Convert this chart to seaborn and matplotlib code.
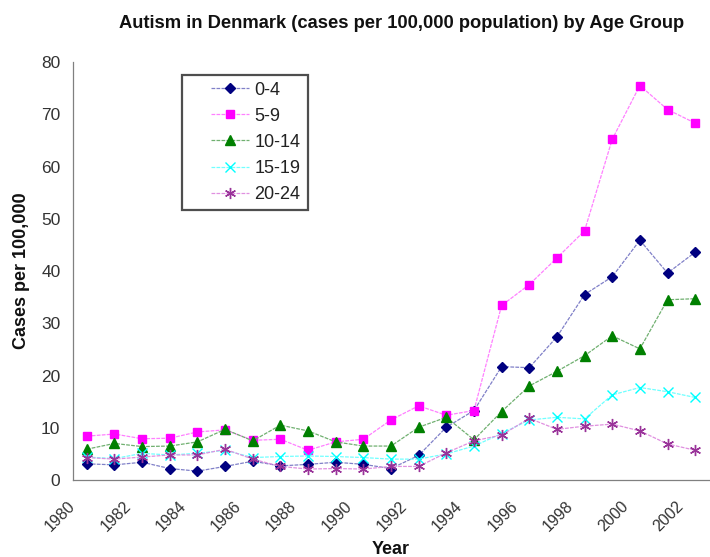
import numpy as np
import pandas as pd
import matplotlib
matplotlib.use("Agg")
import matplotlib.pyplot as plt
from matplotlib.lines import Line2D
from matplotlib.legend_handler import HandlerLine2D
import seaborn as sns

years = list(range(1980, 2003))
ages = ["0-4", "5-9", "10-14", "15-19", "20-24"]

v_0_4 = [3.1, 2.9, 3.4, 2.2, 1.7, 2.6, 3.6, 2.7, 3.0, 3.4, 3.0, 2.2, 4.7, 10.1, 13.3,
         21.7, 21.5, 27.4, 35.5, 38.9, 45.9, 39.6, 43.6]
v_5_9 = [8.4, 8.8, 7.9, 8.0, 9.2, 9.6, 7.6, 7.8, 5.7, 7.3, 7.8, 11.5, 14.2, 12.4, 13.3,
         33.4, 37.4, 42.5, 47.7, 65.2, 75.5, 70.9, 68.3]
v_10_14 = [5.9, 7.0, 6.4, 6.5, 7.3, 9.7, 7.5, 10.5, 9.4, 7.3, 6.5, 6.5, 10.1, 12.0, 7.7,
           13.1, 18.0, 20.8, 23.8, 27.6, 25.1, 34.5, 34.7]
v_15_19 = [4.4, 4.1, 5.1, 4.8, 5.1, 5.7, 4.3, 4.5, 4.6, 4.5, 4.3, 4.0, 4.0, 5.0, 6.5,
           8.9, 11.5, 12.0, 11.7, 16.3, 17.7, 16.9, 15.8]
v_20_24 = [4.3, 4.0, 4.4, 4.8, 4.8, 5.9, 4.0, 2.6, 2.1, 2.2, 2.1, 2.6, 2.6, 5.2, 7.5,
           8.6, 11.8, 9.7, 10.3, 10.7, 9.4, 6.9, 5.7]

y_ticks = [0, 10, 20, 30, 40, 50, 60, 70, 80]
x_labels = [str(y) if y % 2 == 0 else "" for y in years]

series = [v_0_4, v_5_9, v_10_14, v_15_19, v_20_24]
df = pd.DataFrame({
    "Year": years * len(ages),
    "Age": [a for a in ages for _ in years],
    "Cases": [v for s in series for v in s],
})

dark = {"0-4": "#000080", "5-9": "#ff00ff", "10-14": "#008000",
        "15-19": "#00ffff", "20-24": "#993399"}
light = {"0-4": "#8080c8", "5-9": "#ff80ff", "10-14": "#70b070",
         "15-19": "#70ffff", "20-24": "#e090e0"}
markers = {"0-4": "D", "5-9": "s", "10-14": "^", "15-19": "x", "20-24": (6, 2, 0)}
msize = {"0-4": 5.5, "5-9": 6, "10-14": 6.5, "15-19": 6.5, "20-24": 8}

sns.set_theme(style="white")
plt.rcParams["font.family"] = ["Liberation Sans", "DejaVu Sans"]

fig = plt.figure(figsize=(7.1, 5.57), dpi=100)
ax = fig.add_axes([0.1028, 0.1382, 0.8958, 0.7505])

sns.lineplot(data=df, x="Year", y="Cases", hue="Age",
             hue_order=ages, palette=light, linewidth=0.9,
             legend=False, ax=ax)

for line, a in zip(ax.lines, ages):
    line.set_marker(markers[a])
    line.set_markerfacecolor(dark[a])
    line.set_markeredgecolor(dark[a])
    line.set_markeredgewidth(1.0)
    line.set_markersize(msize[a])
    line.set_linestyle((0, (3, 1)))

ax.set_xlim(years[0] - 0.5, years[-1] + 0.5)
ax.set_ylim(0, 80)
ax.set_xticks([y - 0.5 for y in years])
ax.set_xticklabels(x_labels, rotation=45, ha="right", va="center",
                   rotation_mode="anchor", fontsize=11.5, color="#333333")
ax.set_yticks(y_ticks)
ax.set_yticklabels([str(t) for t in y_ticks], fontsize=12.5, color="#333333")
ax.tick_params(axis="x", direction="out", length=4, width=0.8, color="#808080", pad=13)
ax.tick_params(axis="y", direction="out", length=4, width=0.8, color="#808080", pad=5)

for s in ["top", "right"]:
    ax.spines[s].set_visible(False)
for s in ["left", "bottom"]:
    ax.spines[s].set_color("#808080")
    ax.spines[s].set_linewidth(0.9)
ax.grid(False)

ax.set_xlabel("Year", fontsize=13, fontweight="bold", color="#111111", labelpad=5)
ax.set_ylabel("Cases per 100,000", fontsize=13, fontweight="bold", color="#111111", labelpad=8)

fig.text(0.566, 0.958, "Autism in Denmark (cases per 100,000 population) by Age Group",
         ha="center", va="center", fontsize=13.2, fontweight="bold", color="#111111")

leg = ax.legend(handles=ax.lines[:5], labels=ages, loc="upper left",
                bbox_to_anchor=(0.172, 0.97), frameon=True, fancybox=False,
                fontsize=13, handlelength=3.3, labelspacing=0.5,
                borderpad=0.4, handletextpad=0.3, borderaxespad=0,
                handler_map={Line2D: HandlerLine2D(xpad=1.2)})
leg.get_frame().set_edgecolor("#222222")
leg.get_frame().set_linewidth(1.6)
for t in leg.get_texts():
    t.set_color("#222222")

fig.savefig("out.png", dpi=100)
